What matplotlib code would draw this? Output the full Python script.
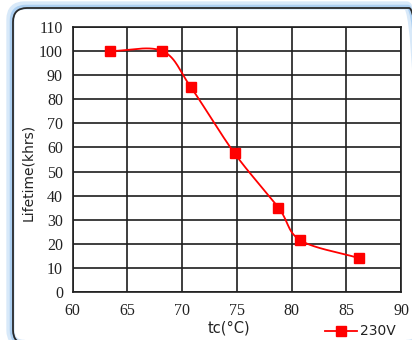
import numpy as np
import matplotlib.pyplot as plt
from matplotlib.patches import FancyBboxPatch
from matplotlib.transforms import IdentityTransform

# data
temps = [63.4, 68.2, 70.8, 74.8, 78.8, 80.8, 86.2]
lifetime = [100, 100, 85, 57.5, 35, 21.5, 14]
xticks = [60, 65, 70, 75, 80, 85, 90]
yticks = list(range(0, 111, 10))


def smooth(x, y, n=30):
    """Catmull-Rom curve through the points, like the spreadsheet smoothed line"""
    x = np.asarray(x, float)
    y = np.asarray(y, float)
    px = np.concatenate([[2 * x[0] - x[1]], x, [2 * x[-1] - x[-2]]])
    py = np.concatenate([[2 * y[0] - y[1]], y, [2 * y[-1] - y[-2]]])
    xs, ys = [], []
    t = np.linspace(0, 1, n)
    for i in range(1, len(px) - 2):
        for p, out in ((px, xs), (py, ys)):
            p0, p1, p2, p3 = p[i - 1:i + 3]
            out.append(0.5 * (2 * p1 + (-p0 + p2) * t
                              + (2 * p0 - 5 * p1 + 4 * p2 - p3) * t ** 2
                              + (-p0 + 3 * p1 - 3 * p2 + p3) * t ** 3))
    return np.concatenate(xs), np.concatenate(ys)


W, H = 412, 340
fig = plt.figure(figsize=(W / 100, H / 100), dpi=100)
fig.patch.set_facecolor("white")

# rounded frame, light blue glow on the top and left side (pixel coordinates)
for lw, col, a, off in [(6, "#cfe4f8", 0.8, -2.5), (3, "#a8cdf1", 0.9, -1.2),
                        (1.3, "#2a2a2a", 1, 0)]:
    fig.patches.append(FancyBboxPatch((13 + off, -4), 410, 336 - off,
                                      boxstyle="round,pad=0,rounding_size=14",
                                      transform=IdentityTransform(), fill=False,
                                      edgecolor=col, lw=lw, alpha=a))

ax = fig.add_axes([72.7 / W, 1 - 292 / H, (401 - 72.7) / W, (292 - 27) / H])
ax.set_xlim(60, 90)
ax.set_ylim(0, 110)
ax.set_xticks(xticks)
ax.set_yticks(yticks)
ax.grid(True, color="#1e1e1e", lw=1.2)
ax.set_axisbelow(True)
for s in ax.spines.values():
    s.set_color("#1e1e1e")
    s.set_linewidth(1.2)
ax.tick_params(axis="y", length=0, pad=7, labelsize=11.5)
ax.tick_params(axis="x", length=0, pad=8, labelsize=11.5)
for lab in ax.get_xticklabels() + ax.get_yticklabels():
    lab.set_family("Liberation Serif")
    lab.set_color("#222222")

sx, sy = smooth(temps, lifetime)
ax.plot(sx, sy, color="#ff0000", lw=1.3)
ax.plot(temps, lifetime, ls="none", marker="s", ms=7, color="#ff0000", label="230V")

fig.text(28 / W, 1 - 172 / H, "Lifetime(khrs)", rotation=90, ha="center",
         va="center", fontsize=10, family="DejaVu Sans", color="#222222")
fig.text(229 / W, 1 - 328 / H, "tc(°C)", ha="center", va="center",
         fontsize=10.5, family="DejaVu Sans", color="#222222")

# legend sample
ly = 1 - 331 / H
fig.add_artist(plt.Line2D([325 / W, 357 / W], [ly, ly], color="#ff0000",
                          lw=1.3, transform=fig.transFigure))
fig.add_artist(plt.Line2D([341 / W], [ly], color="#ff0000", ls="none",
                          marker="s", ms=6.5, transform=fig.transFigure))
fig.text(360 / W, ly, "230V", ha="left", va="center", fontsize=10,
         family="DejaVu Sans", color="#222222")

fig.savefig("out.png", dpi=100, facecolor="white")
